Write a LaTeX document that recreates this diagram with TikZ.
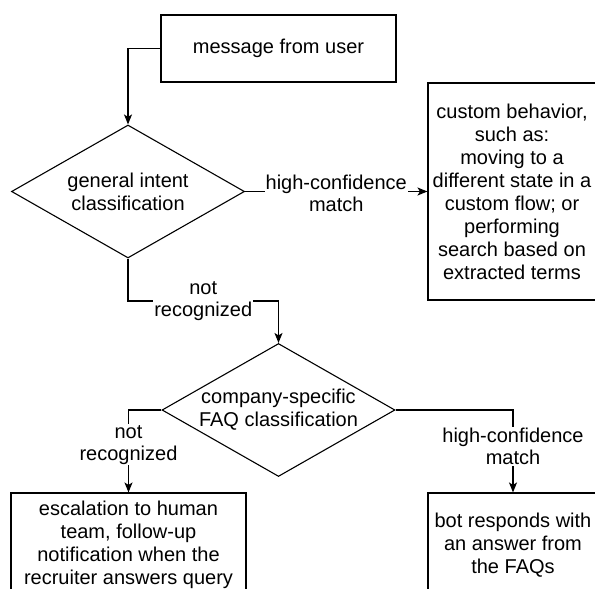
\documentclass[tikz,border=0pt]{standalone}
\usepackage{fontspec}
\setmainfont{Liberation Sans}
\usetikzlibrary{shapes.geometric,arrows.meta}
\begin{document}
\begin{tikzpicture}[x=1pt,y=-1pt,
  txt/.style={font=\fontsize{20}{23}\selectfont, align=center},
  box/.style={txt, draw, rectangle, line width=1.1pt, inner sep=0pt},
  dec/.style={draw, diamond, line width=1.1pt, inner sep=0pt, minimum width=233pt, minimum height=133pt},
  dtext/.style={txt, inner sep=0pt},
  lbl/.style={font=\fontsize{20}{22}\selectfont, align=center, inner sep=1pt, fill=white},
  arr/.style={line width=1.1pt, -{Stealth[length=10pt,width=8pt,inset=2.5pt]}}]
\useasboundingbox (0,0) rectangle (595,589);
\clip (0,0) rectangle (595,589);

\node[box, minimum width=235pt, minimum height=67pt] (msg) at (278.5,48.5) {message from user};
\node[dec, label={[dtext]center:{general intent\\classification}}] (d1) at (128,191.5) {};
\node[box, minimum width=168pt, minimum height=217pt] (custom) at (512,191.5)
  {custom behavior,\\such as:\\moving to a\\different state in a\\custom flow; or\\performing\\search based on\\extracted terms};
\node[dec, label={[dtext]center:{company-specific\\FAQ classification}}] (d2) at (278.5,410) {};
\node[box, minimum width=235pt, minimum height=104pt] (esc) at (128.5,545)
  {escalation to human\\team, follow-up\\notification when the\\recruiter answers query};
\node[box, minimum width=170pt, minimum height=104pt] (bot) at (513,545)
  {bot responds with\\an answer from\\the FAQs};

\coordinate (j1) at (128,301);

\draw[arr] (msg.west) -| (d1.north);
\draw[arr] (d1.east) -- node[lbl, yshift=-2pt] {high-confidence\\match} (custom.west);
\draw[arr] (d1.south) -- (j1) -| node[lbl, pos=0.25] {not\\recognized} (d2.north);
\draw[arr] (d2.west) -| node[lbl, pos=0.71] {not\\recognized} (esc.north);
\draw[arr] (d2.east) -| node[lbl, pos=0.72] {high-confidence\\match} (bot.north);
\end{tikzpicture}
\end{document}
